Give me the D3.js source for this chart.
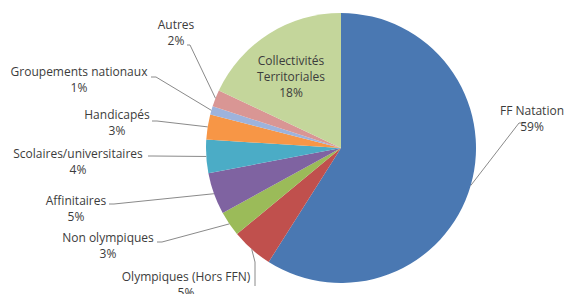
<!DOCTYPE html>
<html>
<head>
<meta charset="utf-8">
<script src="https://cdn.jsdelivr.net/npm/d3@7"></script>
<style>
  body { margin: 0; background: #fff; }
  text { font-family: "Open Sans", sans-serif; font-size: 12px; fill: #3c3c3c; }
</style>
</head>
<body>
<div id="chart"></div>
<script>
// data, clockwise from 12 o'clock
const categories = ["FF Natation", "Olympiques (Hors FFN)", "Non olympiques", "Affinitaires",
  "Scolaires/universitaires", "Handicapés", "Groupements nationaux", "Autres", "Collectivités Territoriales"];
const shares = [59, 5, 3, 5, 4, 3, 1, 2, 18];
const colors = ["#4a78b2", "#c0504d", "#9bbb59", "#7f63a1", "#4bacc6", "#f79646", "#9db3dc", "#d99694", "#c4d69b"];

// where each label sits (text lines and leader start)
const labelLayout = [
  {x: 532, y: 115, lines: ["FF Natation", "59%"], lead: [[526, 123], [519, 123]]},
  {x: 186, y: 281, lines: ["Olympiques (Hors FFN)", "5%"], lead: [[255, 286], [255, 262]]},
  {x: 108, y: 242, lines: ["Non olympiques", "3%"], lead: [[157, 242], [162, 242]]},
  {x: 76, y: 205, lines: ["Affinitaires", "5%"], lead: [[109, 204], [114, 204]]},
  {x: 78, y: 158, lines: ["Scolaires/universitaires", "4%"], lead: [[148, 156], [153, 156]]},
  {x: 117, y: 119, lines: ["Handicapés", "3%"], lead: [[152, 121], [157, 121]]},
  {x: 79, y: 76, lines: ["Groupements nationaux", "1%"], lead: [[151, 77], [156, 77]]},
  {x: 176, y: 29, lines: ["Autres", "2%"], lead: [[187, 45], [190, 45]]},
  {x: 291, y: 65, lines: ["Collectivités", "Territoriales", "18%"], lead: null}
];

const width = 571, height = 294;
const cx = 341, cy = 148, radius = 135;

const svg = d3.select("#chart").append("svg")
  .attr("width", width)
  .attr("height", height);

const g = svg.append("g").attr("transform", "translate(" + cx + "," + cy + ")");

const pie = d3.pie().sort(null).value(d => d.value);
const arcs = pie(categories.map((c, i) => ({name: c, value: shares[i]})));
const arc = d3.arc().innerRadius(0).outerRadius(radius);

g.selectAll("path.slice")
  .data(arcs)
  .enter()
  .append("path")
    .attr("class", "slice")
    .attr("d", arc)
    .attr("fill", (d, i) => colors[i]);

// leader lines
const line = d3.line();
arcs.forEach((a, i) => {
  const lay = labelLayout[i];
  if (!lay.lead) return;
  const mid = (a.startAngle + a.endAngle) / 2;
  const px = cx + radius * Math.sin(mid);
  const py = cy - radius * Math.cos(mid);
  const pts = lay.lead.concat([[px, py]]);
  svg.append("path")
    .attr("d", line(pts))
    .attr("fill", "none")
    .attr("stroke", "#8a8a8a")
    .attr("stroke-width", 1);
});

// labels
labelLayout.forEach(lay => {
  const t = svg.append("text")
    .attr("text-anchor", "middle");
  lay.lines.forEach((s, k) => {
    t.append("tspan")
      .attr("x", lay.x)
      .attr("y", lay.y + k * 16)
      .text(s);
  });
});
</script>
</body>
</html>
